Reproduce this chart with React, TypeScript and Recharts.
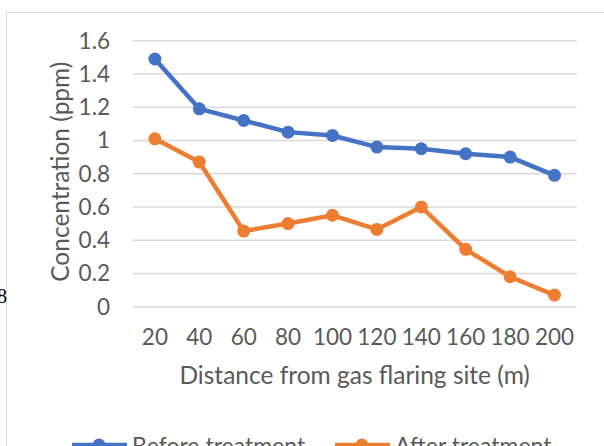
import React from 'react';
import { LineChart, Line, XAxis, YAxis, CartesianGrid, Label } from 'recharts';

const distances = ['20', '40', '60', '80', '100', '120', '140', '160', '180', '200'];
const beforeTreatment = [1.49, 1.19, 1.12, 1.05, 1.03, 0.96, 0.95, 0.92, 0.9, 0.79];
const afterTreatment = [1.01, 0.87, 0.455, 0.5, 0.55, 0.465, 0.6, 0.345, 0.18, 0.07];
const yTicks = [0, 0.2, 0.4, 0.6, 0.8, 1, 1.2, 1.4, 1.6];
const seriesNames = ['Before treatment', 'After treatment'];
const seriesKeys = ['before', 'after'];
const seriesColors = ['#4472C4', '#ED7D31'];
const xTitle = 'Distance from gas flaring site (m)';
const yTitle = 'Concentration (ppm)';

const data = distances.map((d, i) => ({
  distance: d,
  before: beforeTreatment[i],
  after: afterTreatment[i],
}));

const FONT = 'Lato, "Open Sans", sans-serif';
const TEXT = '#595959';
const FS = 22.5;
const TFS = 24.5;

const legendPos = [
  { line: 72, text: 132 },
  { line: 335, text: 395 },
];

export default function App() {
  return (
    <div style={{ position: 'absolute', left: 0, top: 0, width: 604, height: 446, overflow: 'hidden', background: '#fff', fontFamily: FONT }}>
      <div style={{ position: 'absolute', left: 6, top: 12, width: 700, height: 600, borderTop: '1px solid #d9d9d9', borderLeft: '1px solid #d9d9d9' }} />
      <svg style={{ position: 'absolute', left: 0, top: 0 }} width={604} height={446}>
        <text x={-3} y={303} fontFamily="serif" fontSize={20} fill="#000">8</text>
        {seriesNames.map((name, i) => (
          <g key={name}>
            <line x1={legendPos[i].line} x2={legendPos[i].line + 55} y1={445} y2={445} stroke={seriesColors[i]} strokeWidth={4.5} />
            <circle cx={legendPos[i].line + 27} cy={445} r={6.5} fill={seriesColors[i]} />
            <text x={legendPos[i].text} y={454} fontFamily={FONT} fontSize={23} fill={TEXT}>{name}</text>
          </g>
        ))}
      </svg>
      <div style={{ position: 'absolute', left: 0, top: 0 }}>
        <LineChart width={604} height={446} data={data} margin={{ top: 40.7, right: 27.3, left: 0, bottom: 69.3 }}>
          <CartesianGrid horizontal vertical={false} stroke="#d9d9d9" strokeWidth={1.5} />
          <XAxis
            dataKey="distance"
            type="category"
            scale="point"
            padding={{ left: 22.2, right: 22.2 }}
            axisLine={false}
            tickLine={false}
            tickSize={0}
            tickMargin={22}
            height={70}
            interval={0}
            tick={{ fill: TEXT, fontSize: FS, fontFamily: FONT }}
          >
            <Label
              content={(props: any) => {
                const vb = props.viewBox;
                return (
                  <text x={vb.x + vb.width / 2} y={384} textAnchor="middle" fontFamily={FONT} fontSize={TFS} fill={TEXT}>
                    {xTitle}
                  </text>
                );
              }}
            />
          </XAxis>
          <YAxis
            type="number"
            domain={[0, 1.6]}
            ticks={yTicks}
            width={132.7}
            axisLine={false}
            tickLine={false}
            tickSize={0}
            tickMargin={22.7}
            interval={0}
            tick={{ fill: TEXT, fontSize: FS, fontFamily: FONT }}
          >
            <Label
              content={(props: any) => {
                const vb = props.viewBox;
                const cy = vb.y + vb.height / 2 - 2;
                const cx = 60;
                return (
                  <text x={cx} y={cy} textAnchor="middle" dominantBaseline="central" transform={`rotate(-90, ${cx}, ${cy})`} fontFamily={FONT} fontSize={TFS} fill={TEXT}>
                    {yTitle}
                  </text>
                );
              }}
            />
          </YAxis>
          {seriesKeys.map((k, i) => (
            <Line
              key={k}
              dataKey={k}
              name={seriesNames[i]}
              stroke={seriesColors[i]}
              strokeWidth={4.5}
              dot={{ r: 6.5, fill: seriesColors[i], stroke: seriesColors[i], strokeWidth: 0 }}
              activeDot={false}
              isAnimationActive={false}
            />
          ))}
        </LineChart>
      </div>
    </div>
  );
}
